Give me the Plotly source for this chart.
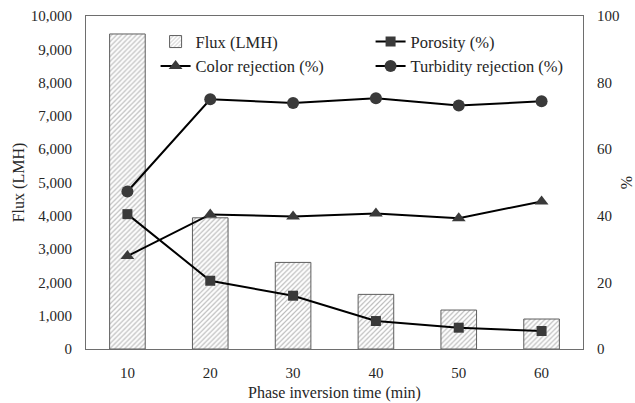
import plotly.graph_objects as go

time_min = [10, 20, 30, 40, 50, 60]
flux_lmh = [9460, 3940, 2600, 1640, 1170, 900]
porosity = [40.5, 20.5, 16.0, 8.4, 6.4, 5.4]
color_rej = [27.9, 40.4, 39.8, 40.7, 39.3, 44.3]
turbidity_rej = [47.3, 75.0, 73.9, 75.3, 73.1, 74.4]

FONT = "Liberation Serif"
LINE = "#000000"
MK = "#3a3a3a"

fig = go.Figure()
fig.add_trace(go.Bar(
    x=time_min, y=flux_lmh, name="Flux (LMH)", width=4.3,
    marker=dict(color="white", line=dict(color="#5e5e5e", width=1),
                pattern=dict(shape="/", fgcolor="#7a7a7a", bgcolor="white", size=3.5, solidity=0.35)),
    yaxis="y",
))
fig.add_trace(go.Scatter(
    x=time_min, y=porosity, name="Porosity (%)", mode="lines+markers",
    line=dict(color=LINE, width=2), marker=dict(symbol="square", size=10, color=MK),
    yaxis="y2",
))
fig.add_trace(go.Scatter(
    x=time_min, y=color_rej, name="Color rejection (%)", mode="lines+markers",
    line=dict(color=LINE, width=2), marker=dict(symbol="triangle-up", size=12, color=MK),
    yaxis="y2",
))
fig.add_trace(go.Scatter(
    x=time_min, y=turbidity_rej, name="Turbidity rejection (%)", mode="lines+markers",
    line=dict(color=LINE, width=2), marker=dict(symbol="circle", size=12, color=MK),
    yaxis="y2",
))

axis_line = "#6e6e6e"
fig.update_layout(
    width=635, height=403,
    margin=dict(l=86, r=52, t=16, b=54),
    paper_bgcolor="white", plot_bgcolor="white",
    font=dict(family=FONT, size=15, color="#262626"),
    showlegend=True,
    legend=dict(orientation="h", x=0.14, y=0.975, xanchor="left", yanchor="top",
                entrywidth=170, bgcolor="rgba(255,255,255,0)",
                font=dict(family=FONT, size=16.5, color="#262626"),
                traceorder="normal", itemwidth=30, tracegroupgap=0),
    xaxis=dict(range=[5, 65], tickvals=time_min, ticktext=[str(t) for t in time_min],
               showline=True, linecolor=axis_line, linewidth=1, mirror=True,
               ticks="outside", ticklen=10, tickcolor="rgba(0,0,0,0)",
               showgrid=False, zeroline=False, automargin=False,
               title=dict(text="Phase inversion time (min)", standoff=6, font=dict(size=16))),
    yaxis=dict(range=[0, 10000], dtick=1000, tickformat=",",
               showline=True, linecolor=axis_line, linewidth=1,
               ticks="outside", ticklen=10, tickcolor="rgba(0,0,0,0)",
               showgrid=False, zeroline=False, automargin=False,
               title=dict(text="Flux (LMH)", standoff=2, font=dict(size=16))),
    yaxis2=dict(range=[0, 100], dtick=20, overlaying="y", side="right",
                showline=True, linecolor=axis_line, linewidth=1,
                ticks="outside", ticklen=10, tickcolor="rgba(0,0,0,0)",
                showgrid=False, zeroline=False, automargin=False,
                title=dict(text="%", standoff=14, font=dict(size=16))),
)

fig.write_html("out.html")
